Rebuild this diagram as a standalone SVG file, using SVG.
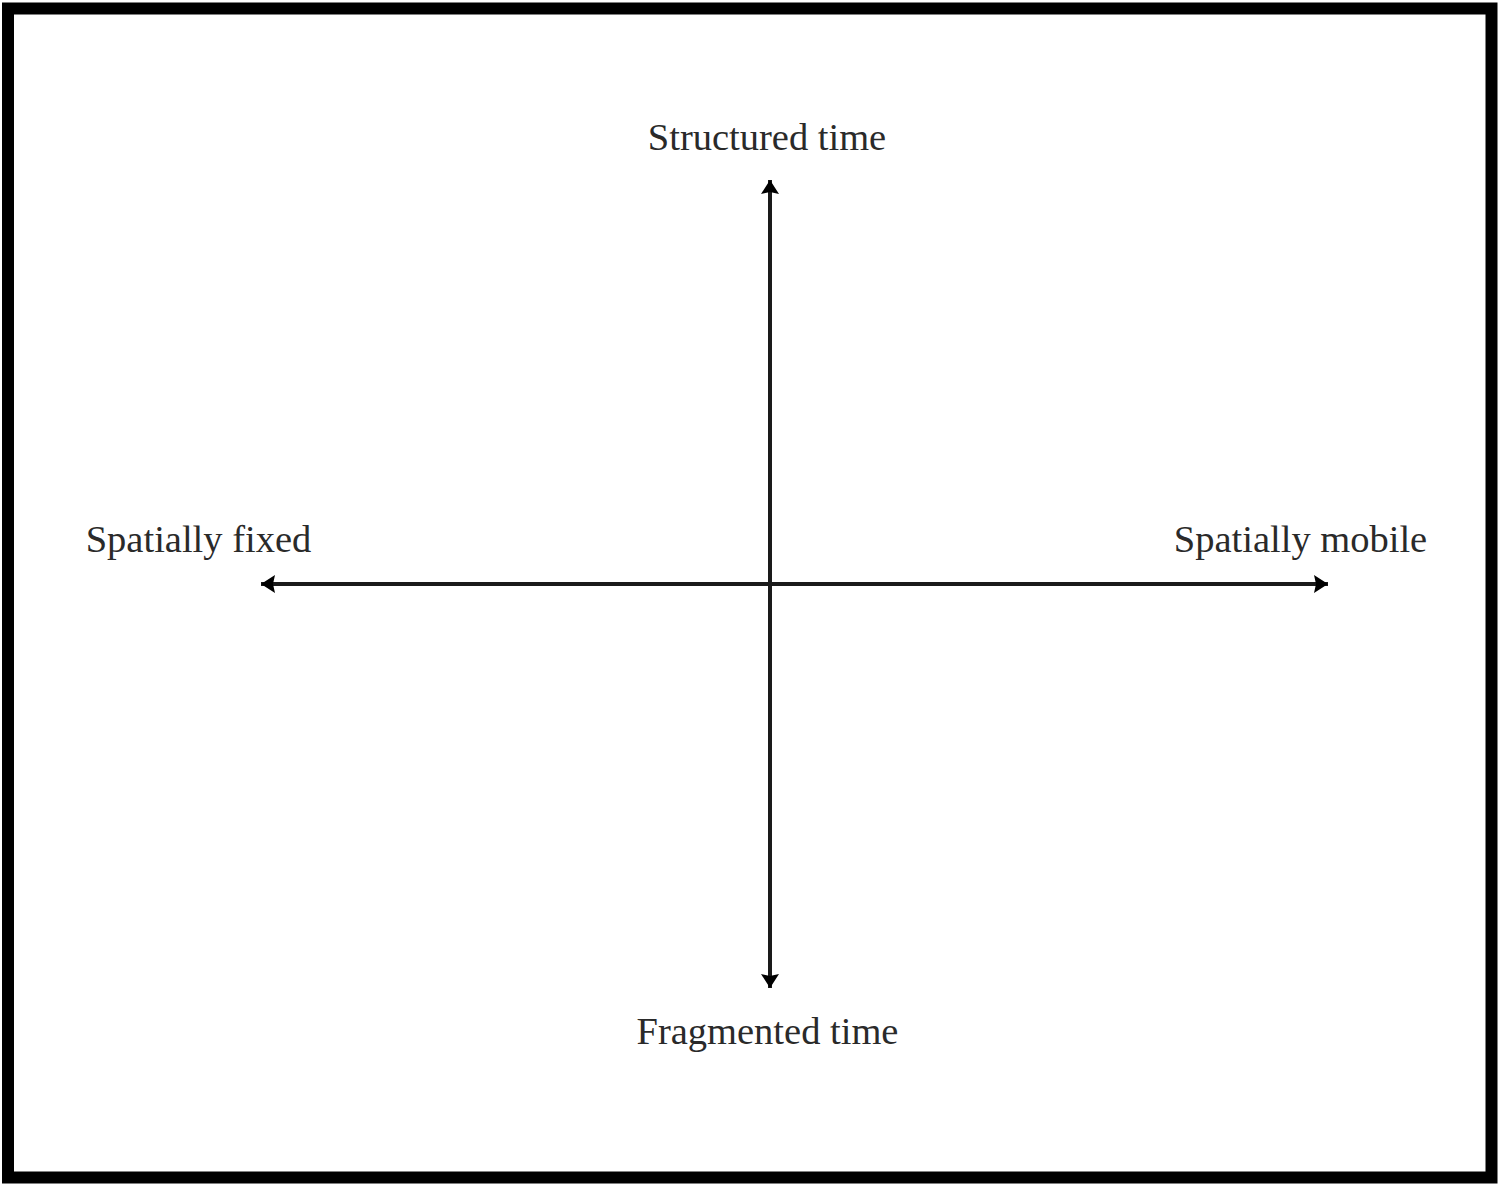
<svg xmlns="http://www.w3.org/2000/svg" width="1500" height="1186" viewBox="0 0 1500 1186">
<style>
.lbl{font-family:"Liberation Serif","Times New Roman",serif;font-size:38.5px;fill:#2a2a2a;}
.ax{stroke:#1a1a1a;stroke-width:4;fill:none;}
</style>
<defs>
<marker id="ah" markerUnits="userSpaceOnUse" markerWidth="16" markerHeight="22" refX="14" refY="11" orient="auto-start-reverse">
<path d="M0,2 L14,11 L0,20 L2,11 Z" fill="#000"/>
</marker>
</defs>
<rect x="0" y="0" width="1500" height="1186" fill="#fff"/>
<rect id="frame" x="8" y="8.5" width="1483.5" height="1169" fill="none" stroke="#000" stroke-width="12"/>
<g id="connectors">
<line class="ax" x1="770" y1="180" x2="770" y2="988" marker-start="url(#ah)" marker-end="url(#ah)"/>
<line class="ax" x1="261" y1="584" x2="1328" y2="584" marker-start="url(#ah)" marker-end="url(#ah)"/>
</g>
<g id="n-structured"><text class="lbl" x="767" y="150" text-anchor="middle">Structured time</text></g>
<g id="n-fragmented"><text class="lbl" x="767.5" y="1044" text-anchor="middle">Fragmented time</text></g>
<g id="n-fixed"><text class="lbl" x="198.5" y="552" text-anchor="middle">Spatially fixed</text></g>
<g id="n-mobile"><text class="lbl" x="1300.5" y="552" text-anchor="middle">Spatially mobile</text></g>
</svg>
